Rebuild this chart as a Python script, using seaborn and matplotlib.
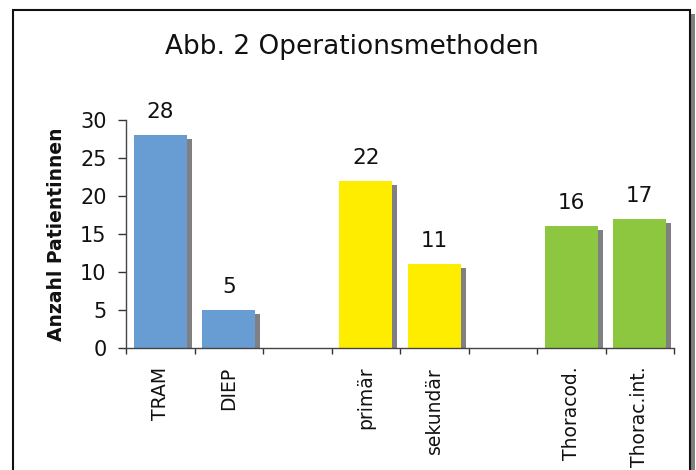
import numpy as np
import pandas as pd
import matplotlib
matplotlib.use("Agg")
import matplotlib.pyplot as plt
import matplotlib.transforms as mtransforms
from matplotlib.patches import Rectangle
import seaborn as sns

# ---- data ----
categories = ["TRAM", "DIEP", "", "primär", "sekundär", " ", "Thoracod.", "Thorac.int."]
values = [28, 5, np.nan, 22, 11, np.nan, 16, 17]
bar_colors = ["#689DD3", "#689DD3", "#FFFFFF", "#FFED00", "#FFED00", "#FFFFFF", "#8DC63F", "#8DC63F"]
title = "Abb. 2 Operationsmethoden"
ylabel = "Anzahl Patientinnen"
yticks = [0, 5, 10, 15, 20, 25, 30]

df = pd.DataFrame({"cat": categories, "val": values})
palette = dict(zip(categories, bar_colors))

sns.set_theme(style="white")
plt.rcParams["font.family"] = ["DejaVu Sans"]

W, H = 696, 470
fig = plt.figure(figsize=(W / 100, H / 100), dpi=100)
ax = fig.add_axes([126 / W, 1 - 348 / H, (674 - 126) / W, (348 - 120) / H])

# shadow bars
sns.barplot(data=df, x="cat", y="val", order=categories, color="#7F7F84",
            width=0.78, ax=ax, saturation=1, errorbar=None)
shadow_patches = list(ax.patches)
off = mtransforms.ScaledTranslation(5 / 100, -4 / 100, fig.dpi_scale_trans)
for p in shadow_patches:
    p.set_transform(ax.transData + off)
    p.set_linewidth(0)

# main bars
sns.barplot(data=df, x="cat", y="val", order=categories, hue="cat",
            palette=palette, legend=False, width=0.78, ax=ax, saturation=1,
            errorbar=None)
for p in ax.patches[len(shadow_patches):]:
    p.set_linewidth(0)

# value labels
for i, v in enumerate(values):
    if not np.isnan(v):
        ax.annotate(f"{int(v)}", (i, v), xytext=(0, 12.2), textcoords="offset points",
                    ha="center", va="baseline", fontsize=15.5, color="#111111")

ax.set_xlim(-0.5, len(categories) - 0.5)
ax.set_ylim(0, 30)
ax.set_yticks(yticks)
ax.set_yticklabels([str(t) for t in yticks], fontsize=15, color="#111111")
ax.set_xticks(range(len(categories)))
ax.set_xticklabels(categories, rotation=90, fontsize=13.5, color="#111111")
ax.set_xticks(np.arange(-0.5, len(categories), 1), minor=True)
ax.tick_params(axis="x", which="major", length=0, pad=13.5)
ax.tick_params(axis="x", which="minor", length=4, width=1, color="#333333", direction="out", bottom=True)
ax.tick_params(axis="y", which="major", length=5.5, width=1, color="#333333", direction="out", left=True, pad=8.5)
ax.set_xlabel("")
ax.set_ylabel(ylabel, fontsize=13.5, fontweight="bold", labelpad=10, color="#111111")
for s in ["top", "right"]:
    ax.spines[s].set_visible(False)
for s in ["left", "bottom"]:
    ax.spines[s].set_color("#444444")
    ax.spines[s].set_linewidth(1)

fig.text(352 / W, 1 - 54 / H, title, ha="center", va="baseline", fontsize=19, color="#111111")

# figure frame with shadow
fig.patches.append(Rectangle((18 / W, -0.1), (690 - 13) / W, (470 - 14) / H + 0.1,
                             transform=fig.transFigure, facecolor="#808080",
                             edgecolor="none", zorder=-2))
fig.patches.append(Rectangle((13 / W, -0.1), (690 - 13) / W, (470 - 10) / H + 0.1,
                             transform=fig.transFigure, facecolor="white",
                             edgecolor="#111111", linewidth=1.5, zorder=-1))

fig.savefig("out.png", dpi=100)
